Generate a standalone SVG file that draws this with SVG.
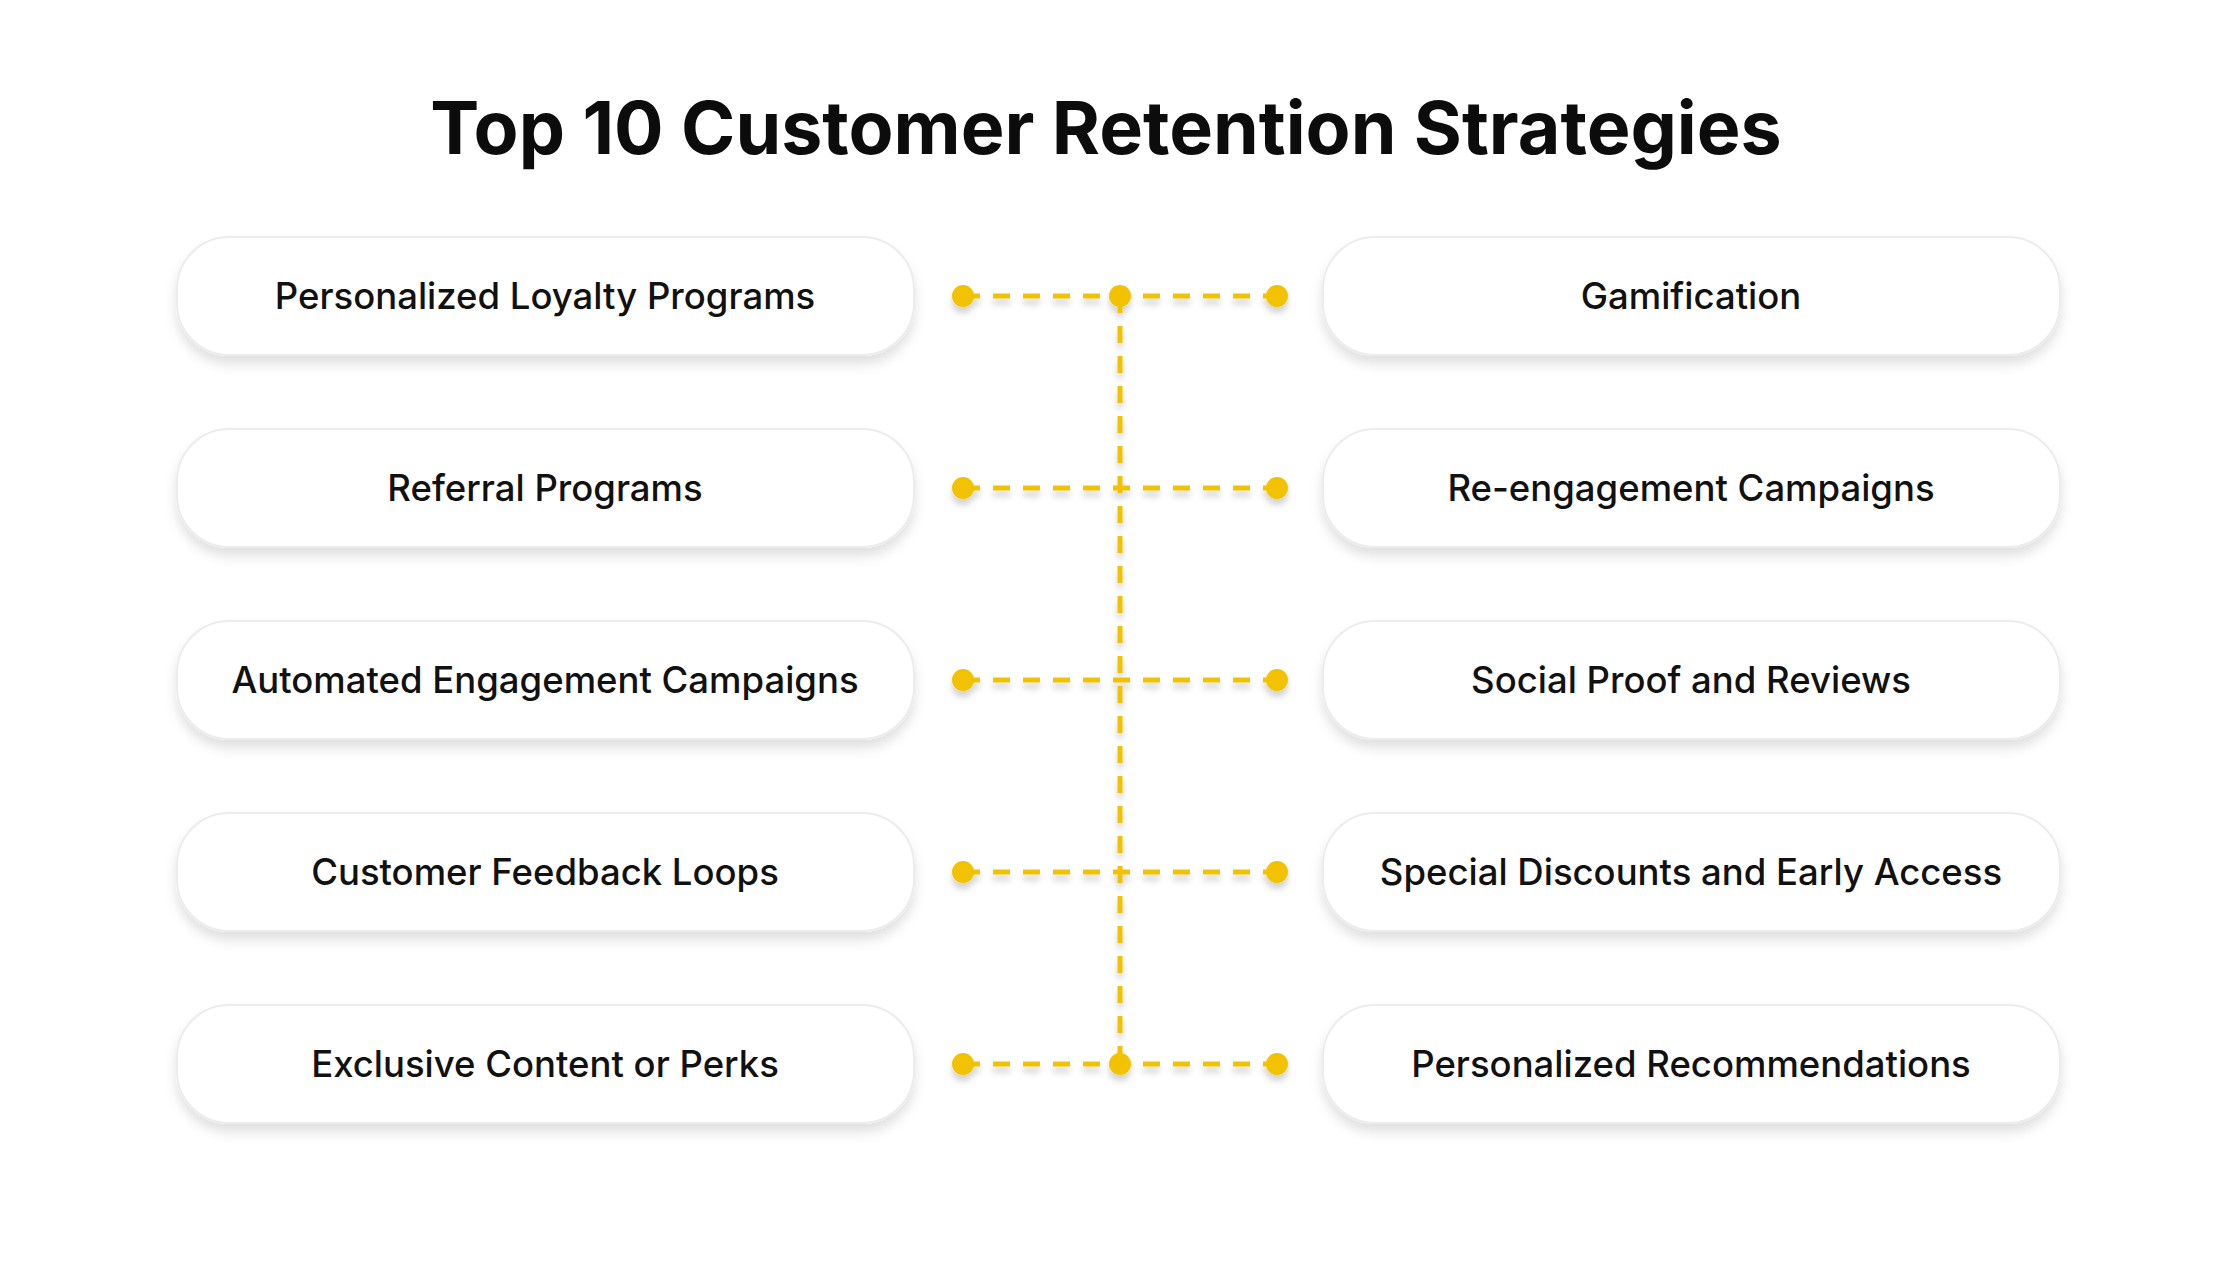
<svg xmlns="http://www.w3.org/2000/svg" width="2240" height="1262" viewBox="0 0 2240 1262">
<defs>
<filter id="sh" x="-10%" y="-30%" width="120%" height="170%"><feDropShadow dx="0" dy="8" stdDeviation="6" flood-color="#000" flood-opacity="0.12"/></filter>
<filter id="dsh" x="-50%" y="-50%" width="200%" height="250%"><feDropShadow dx="0" dy="6" stdDeviation="3" flood-color="#000" flood-opacity="0.18"/></filter>
<style>
.box{fill:#fff;stroke:#ececec;stroke-width:2;filter:url(#sh)}
.t{font-family:Inter,"Liberation Sans",sans-serif;font-size:36.5px;fill:#111;text-anchor:middle;dominant-baseline:central;font-weight:500}
.ln{stroke:#f2c200;stroke-width:5;stroke-dasharray:17 13;fill:none}
.d{fill:#f2c200}
</style>
</defs>
<rect width="2240" height="1262" fill="#fff"/>
<text x="1106" y="127" font-family="Inter,'Liberation Sans',sans-serif" font-size="73.5" font-weight="700" fill="#0c0c0c" text-anchor="middle" dominant-baseline="central">Top 10 Customer Retention Strategies</text>
<g id="connectors" filter="url(#dsh)">
<line class="ln" x1="1120" y1="296" x2="1120" y2="1064"/>
<line class="ln" x1="963" y1="296" x2="1283" y2="296"/>
<line class="ln" x1="963" y1="488" x2="1283" y2="488"/>
<line class="ln" x1="963" y1="680" x2="1283" y2="680"/>
<line class="ln" x1="963" y1="872" x2="1283" y2="872"/>
<line class="ln" x1="963" y1="1064" x2="1283" y2="1064"/>
<circle class="d" cx="963" cy="296" r="11"/><circle class="d" cx="1120" cy="296" r="11"/><circle class="d" cx="1277" cy="296" r="11"/>
<circle class="d" cx="963" cy="488" r="11"/><circle class="d" cx="1277" cy="488" r="11"/>
<circle class="d" cx="963" cy="680" r="11"/><circle class="d" cx="1277" cy="680" r="11"/>
<circle class="d" cx="963" cy="872" r="11"/><circle class="d" cx="1277" cy="872" r="11"/>
<circle class="d" cx="963" cy="1064" r="11"/><circle class="d" cx="1120" cy="1064" r="11"/><circle class="d" cx="1277" cy="1064" r="11"/>
</g>
<g id="n1"><rect class="box" x="177" y="237" width="737" height="118" rx="52"/><text class="t" x="545" y="296">Personalized Loyalty Programs</text></g>
<g id="n2"><rect class="box" x="177" y="429" width="737" height="118" rx="52"/><text class="t" x="545" y="488">Referral Programs</text></g>
<g id="n3"><rect class="box" x="177" y="621" width="737" height="118" rx="52"/><text class="t" x="545" y="680">Automated Engagement Campaigns</text></g>
<g id="n4"><rect class="box" x="177" y="813" width="737" height="118" rx="52"/><text class="t" x="545" y="872">Customer Feedback Loops</text></g>
<g id="n5"><rect class="box" x="177" y="1005" width="737" height="118" rx="52"/><text class="t" x="545" y="1064">Exclusive Content or Perks</text></g>
<g id="n6"><rect class="box" x="1323" y="237" width="737" height="118" rx="52"/><text class="t" x="1691" y="296">Gamification</text></g>
<g id="n7"><rect class="box" x="1323" y="429" width="737" height="118" rx="52"/><text class="t" x="1691" y="488">Re-engagement Campaigns</text></g>
<g id="n8"><rect class="box" x="1323" y="621" width="737" height="118" rx="52"/><text class="t" x="1691" y="680">Social Proof and Reviews</text></g>
<g id="n9"><rect class="box" x="1323" y="813" width="737" height="118" rx="52"/><text class="t" x="1691" y="872">Special Discounts and Early Access</text></g>
<g id="n10"><rect class="box" x="1323" y="1005" width="737" height="118" rx="52"/><text class="t" x="1691" y="1064">Personalized Recommendations</text></g>
</svg>
